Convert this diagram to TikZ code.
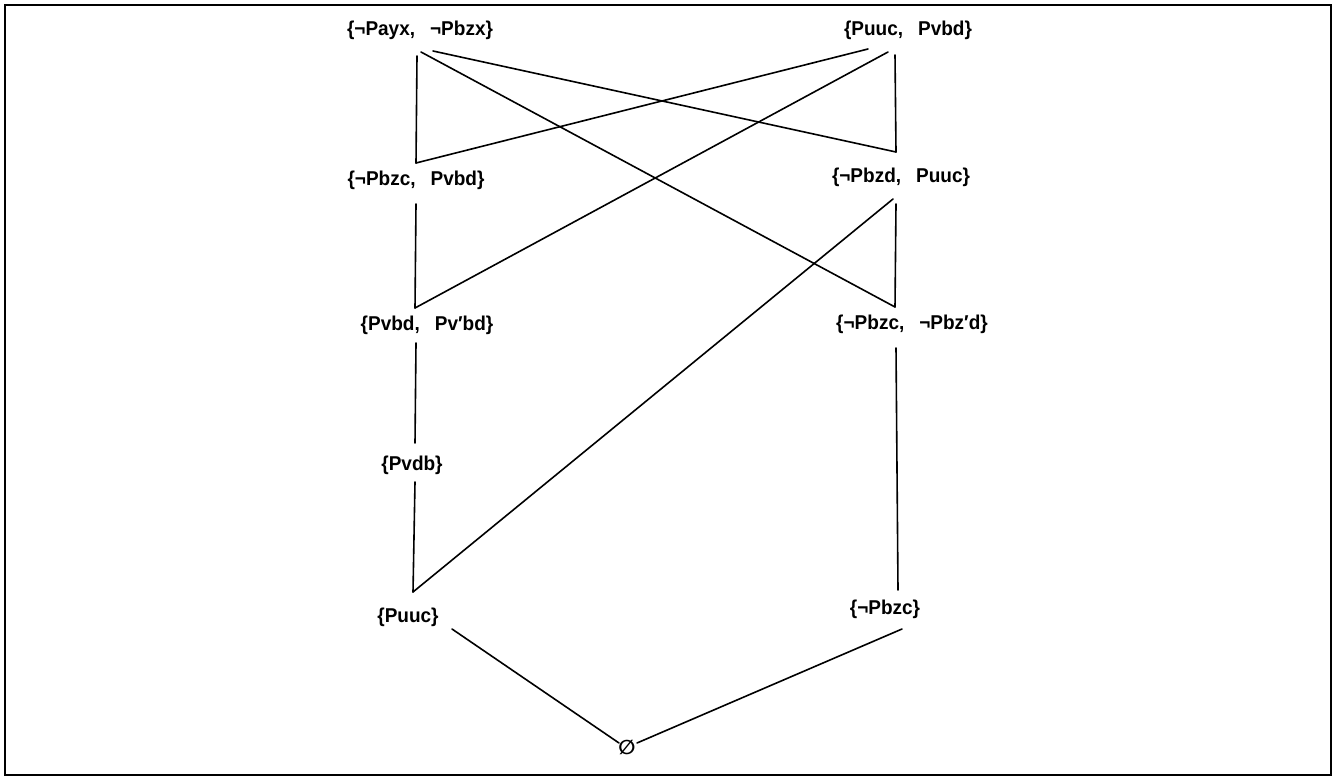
\documentclass[tikz,border=0pt]{standalone}
\usepackage{fontspec}
\setmainfont{Liberation Sans}[FakeStretch=0.95]
\newfontfamily\symfont{DejaVu Sans}
\newcommand\gp{\hspace{15pt}}
\begin{document}
\begin{tikzpicture}[x=1pt,y=-1pt,
  lbl/.style={inner sep=0pt,font=\fontsize{20}{22}\selectfont\bfseries},
  edge/.style={line width=1.6pt,line cap=round}]
\useasboundingbox (0,0) rectangle (1335,778);
\draw[line width=2pt] (5,5) rectangle (1331,775);
% nodes
\node[lbl] (A) at (420,30) {\{¬Payx,\gp¬Pbzx\}};
\node[lbl] (B) at (908,30) {\{Puuc,\gp Pvbd\}};
\node[lbl] (C) at (416,180) {\{¬Pbzc,\gp Pvbd\}};
\node[lbl] (D) at (901,177) {\{¬Pbzd,\gp Puuc\}};
\node[lbl] (E) at (427,325) {\{Pvbd,\gp Pv′bd\}};
\node[lbl] (F) at (912,324) {\{¬Pbzc,\gp ¬Pbz′d\}};
\node[lbl] (G) at (412,465) {\{Pvdb\}};
\node[lbl] (H) at (408,617) {\{Puuc\}};
\node[lbl] (I) at (885,609) {\{¬Pbzc\}};
\node[lbl,font=\fontsize{20}{22}\selectfont\symfont\bfseries] (J) at (627,747) {∅};
% connection points
\coordinate (Av) at (417,56);
\coordinate (Af) at (421,52);
\coordinate (Ad) at (433,51);
\coordinate (Bc) at (868,49);
\coordinate (Be) at (888,52);
\coordinate (Bv) at (895,55);
\coordinate (Ct) at (416,163);
\coordinate (Cb) at (416,204);
\coordinate (Dt) at (896,152);
\coordinate (Db) at (896,204);
\coordinate (Dh) at (893,199);
\coordinate (Et) at (415,308);
\coordinate (Eb) at (416,343);
\coordinate (Ft) at (895,307);
\coordinate (Fb) at (896,348);
\coordinate (Gt) at (415,443);
\coordinate (Gb) at (415,482);
\coordinate (Ht) at (413,592);
\coordinate (Hb) at (452,629);
\coordinate (It) at (898,590);
\coordinate (Ib) at (902,629);
\coordinate (Jl) at (619,743);
\coordinate (Jr) at (637,743);
% edges
\draw[edge] (Av) -- (Ct);
\draw[edge] (Af) -- (Ft);
\draw[edge] (Ad) -- (Dt);
\draw[edge] (Bc) -- (Ct);
\draw[edge] (Be) -- (Et);
\draw[edge] (Bv) -- (Dt);
\draw[edge] (Cb) -- (Et);
\draw[edge] (Db) -- (Ft);
\draw[edge] (Dh) -- (Ht);
\draw[edge] (Eb) -- (Gt);
\draw[edge] (Gb) -- (Ht);
\draw[edge] (Fb) -- (It);
\draw[edge] (Hb) -- (Jl);
\draw[edge] (Ib) -- (Jr);
\end{tikzpicture}
\end{document}
